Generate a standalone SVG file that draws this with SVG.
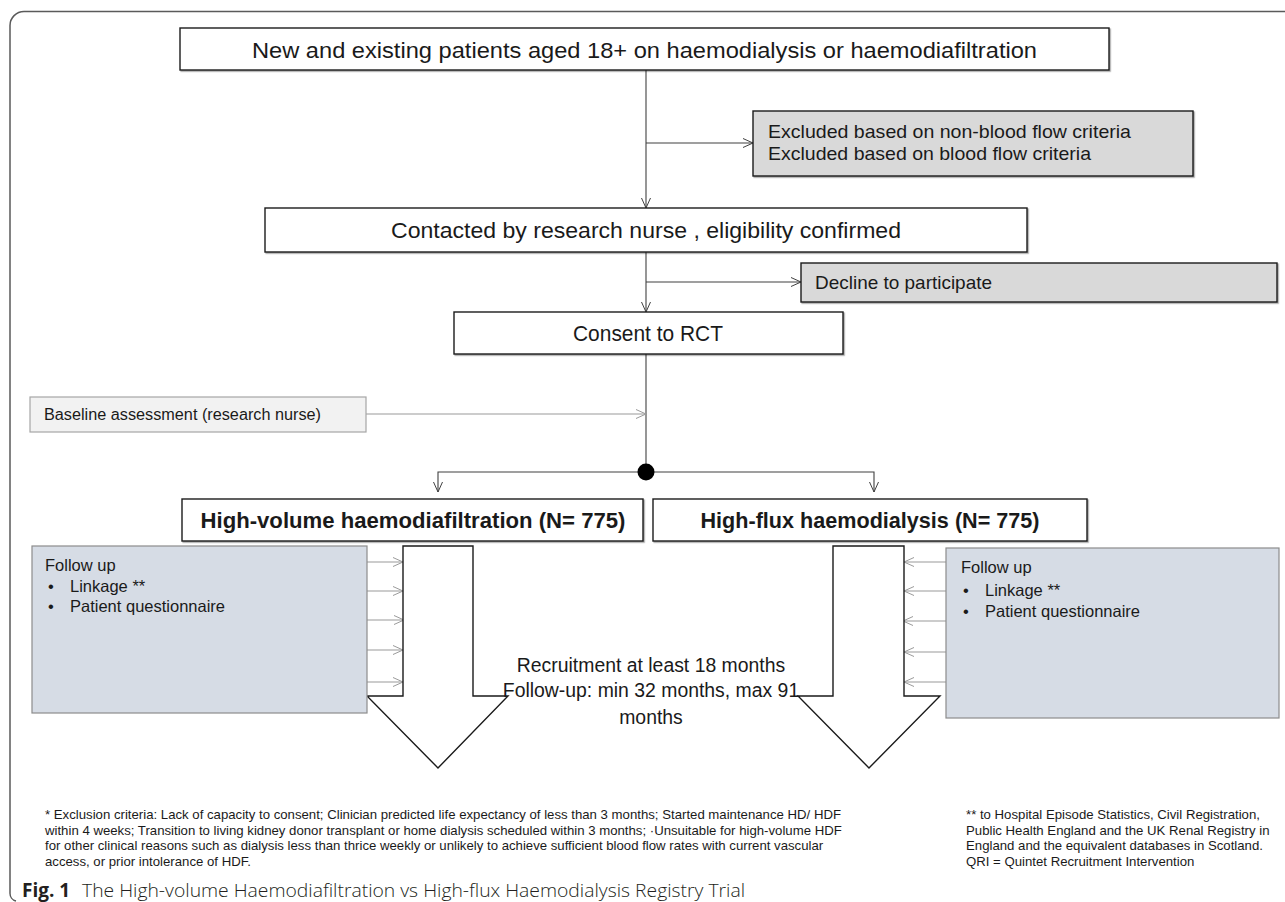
<svg xmlns="http://www.w3.org/2000/svg" width="1285" height="902" viewBox="0 0 1285 902">
<style>
.box{fill:#fff;stroke:#1a1a1a;stroke-width:1.4}
.gbox{fill:#d9d9d9;stroke:#1a1a1a;stroke-width:1.4}
.lbox{fill:#f2f2f2;stroke:#a6a6a6;stroke-width:1.2}
.fbox{fill:#d6dce5;stroke:#8c8c8c;stroke-width:1.2}
.big{fill:#fff;stroke:#1a1a1a;stroke-width:1.4;stroke-linejoin:miter}
.t{font-family:"Liberation Sans",Arial,sans-serif;fill:#1a1a1a}
.c{stroke:#404040;stroke-width:1.1;fill:none}
.g{stroke:#9a9a9a;stroke-width:1.1;fill:none}
</style>
<defs>
<filter id="sh" x="-5%" y="-5%" width="110%" height="120%">
<feDropShadow dx="1.2" dy="1.2" stdDeviation="0.6" flood-color="#000" flood-opacity="0.35"/>
</filter>
<marker id="ah" viewBox="0 0 12 10" refX="11" refY="5" markerWidth="12" markerHeight="10" markerUnits="userSpaceOnUse" orient="auto">
<path d="M1,0.5 L11,5 L1,9.5" fill="none" stroke="#404040" stroke-width="1"/>
</marker>
<marker id="ahg" viewBox="0 0 12 10" refX="11" refY="5" markerWidth="12" markerHeight="10" markerUnits="userSpaceOnUse" orient="auto">
<path d="M1,0.5 L11,5 L1,9.5" fill="none" stroke="#9a9a9a" stroke-width="1"/>
</marker>
</defs>

<path id="frame" d="M1285,11.5 H24 A14,14 0 0 0 10,25.5 V893 A8,8 0 0 0 16,901" fill="none" stroke="#5a5a5a" stroke-width="1.5"/>

<g id="connectors">
<path class="c" d="M646,70 V208" marker-end="url(#ah)"/>
<path class="c" d="M646,143 H753" marker-end="url(#ah)"/>
<path class="c" d="M646,252 V312" marker-end="url(#ah)"/>
<path class="c" d="M646,282 H801" marker-end="url(#ah)"/>
<path class="c" d="M646,354 V472"/>
<path class="g" d="M366,414 H646" marker-end="url(#ahg)"/>
<path class="c" d="M646,472 H438 V492" marker-end="url(#ah)"/>
<path class="c" d="M646,472 H874 V492" marker-end="url(#ah)"/>
<circle cx="646" cy="472" r="8.5" fill="#000"/>
<path class="g" d="M367,562 H403" marker-end="url(#ahg)"/>
<path class="g" d="M367,591 H403" marker-end="url(#ahg)"/>
<path class="g" d="M367,620 H404" marker-end="url(#ahg)"/>
<path class="g" d="M367,650 H403" marker-end="url(#ahg)"/>
<path class="g" d="M367,682 H403" marker-end="url(#ahg)"/>
<path class="g" d="M946,562 H904" marker-end="url(#ahg)"/>
<path class="g" d="M946,591 H904" marker-end="url(#ahg)"/>
<path class="g" d="M946,621 H903" marker-end="url(#ahg)"/>
<path class="g" d="M946,652 H904" marker-end="url(#ahg)"/>
<path class="g" d="M946,682 H904" marker-end="url(#ahg)"/>
</g>

<g id="n-start">
<rect class="box" x="180" y="28" width="929" height="42" filter="url(#sh)"/>
<text class="t" x="644.5" y="58" font-size="22.5" text-anchor="middle" textLength="785" lengthAdjust="spacingAndGlyphs">New and existing patients aged 18+  on haemodialysis or haemodiafiltration</text>
</g>

<g id="n-excluded">
<rect class="gbox" x="753" y="111" width="440" height="65" filter="url(#sh)"/>
<text class="t" x="768" y="138" font-size="18.5" textLength="363" lengthAdjust="spacingAndGlyphs">Excluded based on non-blood flow criteria</text>
<text class="t" x="768" y="160" font-size="18.5" textLength="323" lengthAdjust="spacingAndGlyphs">Excluded based on blood flow criteria</text>
</g>

<g id="n-contacted">
<rect class="box" x="265" y="208" width="762" height="44" filter="url(#sh)"/>
<text class="t" x="646" y="238" font-size="22" text-anchor="middle" textLength="510" lengthAdjust="spacingAndGlyphs">Contacted by research nurse , eligibility confirmed</text>
</g>

<g id="n-decline">
<rect class="gbox" x="801" y="263" width="476" height="39" filter="url(#sh)"/>
<text class="t" x="815" y="289" font-size="18.5" textLength="177" lengthAdjust="spacingAndGlyphs">Decline to participate</text>
</g>

<g id="n-consent">
<rect class="box" x="454" y="312" width="389" height="42" filter="url(#sh)"/>
<text class="t" x="648" y="341" font-size="22" text-anchor="middle" textLength="150" lengthAdjust="spacingAndGlyphs">Consent to RCT</text>
</g>

<g id="n-baseline">
<rect class="lbox" x="30" y="397" width="336" height="35"/>
<text class="t" x="44" y="420" font-size="16" textLength="277" lengthAdjust="spacingAndGlyphs">Baseline assessment (research nurse)</text>
</g>

<g id="n-hvhdf">
<rect class="box" x="182" y="499" width="461" height="42" filter="url(#sh)"/>
<text class="t" x="413" y="528" font-size="22" font-weight="bold" text-anchor="middle" textLength="425" lengthAdjust="spacingAndGlyphs">High-volume haemodiafiltration (N= 775)</text>
</g>

<g id="n-hfhd">
<rect class="box" x="653" y="499" width="434" height="42" filter="url(#sh)"/>
<text class="t" x="870" y="528" font-size="22" font-weight="bold" text-anchor="middle" textLength="339" lengthAdjust="spacingAndGlyphs">High-flux haemodialysis (N= 775)</text>
</g>

<g id="n-arrow-left">
<polygon class="big" points="403,546 473,546 473,696 508,696 438,768 367,696 403,696"/>
</g>

<g id="n-arrow-right">
<polygon class="big" points="833,546 904,546 904,696 940,696 869,768 798,696 833,696"/>
</g>

<g id="n-follow-left">
<rect class="fbox" x="32" y="546" width="335" height="167"/>
<text class="t" x="45" y="571" font-size="16.5">Follow up</text>
<text class="t" x="48" y="592" font-size="16.5">•</text>
<text class="t" x="70" y="592" font-size="16.5">Linkage **</text>
<text class="t" x="48" y="612" font-size="16.5">•</text>
<text class="t" x="70" y="612" font-size="16.5">Patient questionnaire</text>
</g>

<g id="n-follow-right">
<rect class="fbox" x="946" y="548" width="333" height="170"/>
<text class="t" x="961" y="573" font-size="16.5">Follow up</text>
<text class="t" x="963" y="596" font-size="16.5">•</text>
<text class="t" x="985" y="596" font-size="16.5">Linkage **</text>
<text class="t" x="963" y="617" font-size="16.5">•</text>
<text class="t" x="985" y="617" font-size="16.5">Patient questionnaire</text>
</g>

<g id="n-duration">
<text class="t" x="651" y="672" font-size="19.4" text-anchor="middle">Recruitment at least 18 months</text>
<text class="t" x="651" y="697" font-size="19.4" text-anchor="middle">Follow-up: min 32 months, max 91</text>
<text class="t" x="651" y="724" font-size="19.4" text-anchor="middle">months</text>
</g>

<g id="footnote-left" class="t" font-size="13.2">
<text x="45" y="819">* Exclusion criteria: Lack of capacity to consent; Clinician predicted life expectancy of less than 3 months; Started maintenance HD/ HDF</text>
<text x="45" y="834.5">within 4 weeks; Transition to living kidney donor transplant or home dialysis scheduled within 3 months; ·Unsuitable for high-volume HDF</text>
<text x="45" y="850">for other clinical reasons such as dialysis less than thrice weekly or unlikely to achieve sufficient blood flow rates with current vascular</text>
<text x="45" y="865.5">access, or prior intolerance of HDF.</text>
</g>

<g id="footnote-right" class="t" font-size="13.2">
<text x="966" y="819">** to Hospital Episode Statistics, Civil Registration,</text>
<text x="966" y="834.5">Public Health England and the UK Renal Registry in</text>
<text x="966" y="850">England and the equivalent databases in Scotland.</text>
<text x="966" y="865.5">QRI = Quintet Recruitment Intervention</text>
</g>

<g id="caption">
<text x="22" y="897" font-family="'Open Sans',sans-serif" font-size="19" font-weight="bold" fill="#231f20">Fig. 1</text>
<text x="82" y="897" font-family="'Open Sans',sans-serif" font-size="18" font-weight="300" fill="#231f20" textLength="663" lengthAdjust="spacingAndGlyphs">The High-volume Haemodiafiltration vs High-flux Haemodialysis Registry Trial</text>
</g>
</svg>
